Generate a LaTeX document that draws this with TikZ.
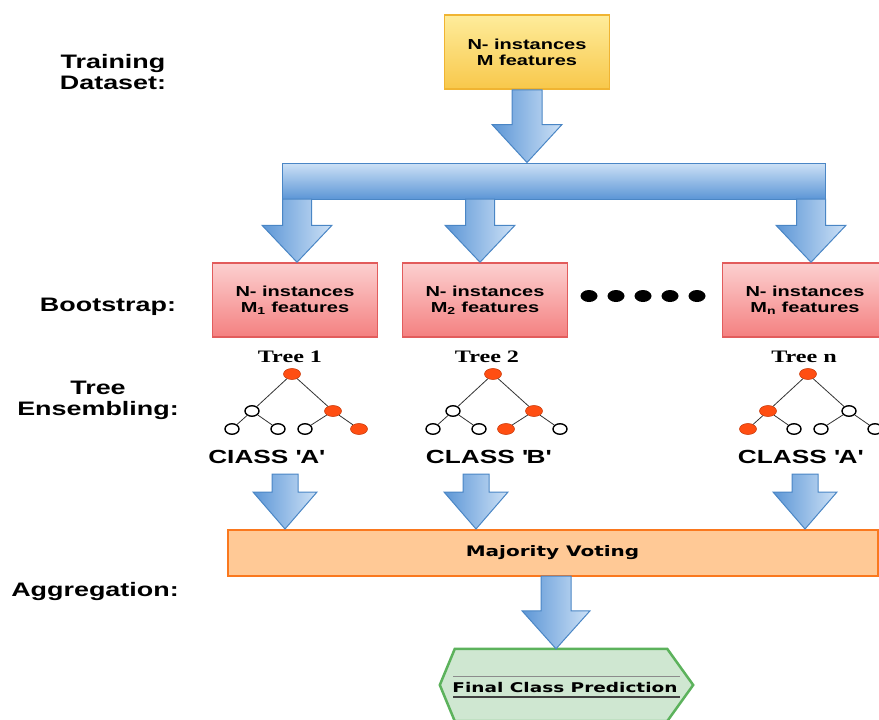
\documentclass[tikz,border=0pt]{standalone}
\usepackage{fontspec}
\setmainfont{Liberation Sans}[FakeStretch=1.38]
\newfontfamily\treefont{Liberation Serif}[FakeStretch=1.38]
\newfontfamily\widefont{DejaVu Sans}[FakeStretch=1.38]
\usepackage{tikz}
\usetikzlibrary{shapes.geometric, positioning}
\usetikzlibrary{calc}

\definecolor{arrowline}{RGB}{74,134,197}
\definecolor{arrowdark}{RGB}{92,150,214}
\definecolor{arrowlight}{RGB}{205,225,246}
\definecolor{redline}{RGB}{226,92,92}
\definecolor{redtop}{RGB}{252,208,208}
\definecolor{redbot}{RGB}{244,128,128}
\definecolor{yelline}{RGB}{240,180,50}
\definecolor{yeltop}{RGB}{254,236,155}
\definecolor{yelbot}{RGB}{248,200,75}
\definecolor{orline}{RGB}{250,120,30}
\definecolor{orfill}{RGB}{255,201,150}
\definecolor{grline}{RGB}{92,178,92}
\definecolor{grfill}{RGB}{207,231,209}
\definecolor{leafred}{RGB}{255,78,18}

% block arrow: start, tip, half shaft, half head, head length
\newcommand{\fatarrow}[5]{%
  \draw[fatarrow] let \p1=(#1), \p2=(#2) in
    (\x2-#3pt,\y1) -- (\x2+#3pt,\y1) -- (\x2+#3pt,\y2+#5pt) -- (\x2+#4pt,\y2+#5pt)
    -- (\x2,\y2) -- (\x2-#4pt,\y2+#5pt) -- (\x2-#3pt,\y2+#5pt) -- cycle;}

\tikzset{
  sidelabel/.style={align=center, font=\fontsize{19.5}{21}\selectfont\bfseries},
  databox/.style={draw, line width=1.5pt, minimum width=165pt, minimum height=74pt,
    align=center, font=\fontsize{14.5}{16}\selectfont\bfseries},
  fatarrow/.style={draw=arrowline, line width=1pt, left color=arrowdark, right color=arrowlight},
  onode/.style={ellipse, draw=leafred!80!black, fill=leafred, line width=0.6pt,
    minimum width=17pt, minimum height=11pt, inner sep=0pt},
  wnode/.style={ellipse, draw=black, fill=white, line width=1.4pt,
    minimum width=14pt, minimum height=10.5pt, inner sep=0pt},
  treeedge/.style={draw=black!80, line width=0.8pt},
  treelabel/.style={font=\treefont\fontsize{17.5}{19}\selectfont\bfseries},
  classlabel/.style={font=\fontsize{19}{21}\selectfont\bfseries}
}

\begin{document}
\begin{tikzpicture}[x=1pt, y=-1pt]
		\useasboundingbox (0,0) rectangle (879,720);
		\clip (0,0) rectangle (879,720);

		% side labels
		\draw (113,72) node[sidelabel] (lab1) {Training\\Dataset:}
		(108,307) node[sidelabel] (lab2) {Bootstrap:}
		(98,400) node[sidelabel] (lab3) {Tree\\Ensembling:}
		(95,591) node[sidelabel] (lab4) {Aggregation:};

		% data boxes
		\draw (527,52) node[databox, draw=yelline, top color=yeltop, bottom color=yelbot] (ds) {N- instances\\M features}
		(554,181) node[draw=arrowline, line width=1pt, minimum width=543pt, minimum height=36pt,
			top color=arrowlight, bottom color=arrowdark] (bar) {}
		(295,300) node[databox, draw=redline, top color=redtop, bottom color=redbot] (bs1) {N- instances\\M\textsubscript{1} features}
		(485,300) node[databox, draw=redline, top color=redtop, bottom color=redbot] (bs2) {N- instances\\M\textsubscript{2} features}
		(805,300) node[databox, draw=redline, top color=redtop, bottom color=redbot] (bsn) {N- instances\\M\textsubscript{n} features};

		\foreach \dx in {589,616,643,670,697}
			\fill (\dx,296) ellipse (8.5 and 6);

		% trees
		\foreach \t/\px/\cl/\cr/\cll/\clr/\crl/\crr in {1/292/wnode/onode/wnode/wnode/wnode/onode,
				2/493/wnode/onode/wnode/wnode/onode/wnode,
				n/808/onode/wnode/onode/wnode/wnode/wnode}{
			\draw (\px,374) node[onode] (root\t) {}
			(\px-40,411) node[\cl] (lc\t) {}
			(\px+41,411) node[\cr] (rc\t) {}
			(\px-60,429) node[\cll] (llc\t) {}
			(\px-14,429) node[\clr] (lrc\t) {}
			(\px+13,429) node[\crl] (rlc\t) {}
			(\px+67,429) node[\crr] (rrc\t) {};
			\draw[treeedge] (root\t) -- (lc\t);
			\draw[treeedge] (root\t) -- (rc\t);
			\draw[treeedge] (lc\t) -- (llc\t);
			\draw[treeedge] (lc\t) -- (lrc\t);
			\draw[treeedge] (rc\t) -- (rlc\t);
			\draw[treeedge] (rc\t) -- (rrc\t);
		}

		\draw (290,357) node[treelabel] (tl1) {Tree 1}
		(487,357) node[treelabel] (tl2) {Tree 2}
		(804,357) node[treelabel] (tln) {Tree n}
		(266,457) node[classlabel] (cl1) {CIASS \textquotesingle A\textquotesingle}
		(488,457) node[classlabel] (cl2) {CLASS \textquotesingle B\textquotesingle}
		(800,457) node[classlabel] (cln) {CLASS \textquotesingle A\textquotesingle};

		% voting and result
		\draw (552.5,553) node[draw=orline, line width=2pt, fill=orfill, minimum width=650pt, minimum height=46pt,
			font=\widefont\fontsize{14.5}{16}\selectfont\bfseries] (mv) {Majority Voting}
		(561,685) node[minimum width=212pt, minimum height=72pt, inner sep=0pt] (fp) {};
		\draw[draw=grline, fill=grfill, line width=2.5pt] ($(fp.west)+(-15,0)$) -- (fp.north west) -- (fp.north east)
			-- ($(fp.east)+(26,0)$) -- (fp.south east) -- (fp.south west) -- cycle;
		\draw[black!45, line width=1pt] (453,676) -- (680,676);
		\draw[black!75, line width=1.2pt] (453,697) -- (680,697);
		\node[font=\widefont\fontsize{13.4}{15}\selectfont\bfseries] (fpt) at (565,687) {Final Class Prediction};

		% block arrows
		\coordinate (a1) at (297,199);
		\coordinate (a2) at (480,199);
		\coordinate (an) at (811,199);
		\coordinate (c1) at (285,474);
		\coordinate (c2) at (476,474);
		\coordinate (cn) at (805,474);
		\coordinate (d) at (556,576);
		\fatarrow{ds.south}{ds.south |- bar.north}{15}{35}{38}
		\fatarrow{a1}{a1 |- bs1.north}{14.5}{35}{37}
		\fatarrow{a2}{a2 |- bs2.north}{14.5}{35}{37}
		\fatarrow{an}{an |- bsn.north}{14.5}{35}{37}
		\fatarrow{c1}{c1 |- mv.north}{13}{32}{37}
		\fatarrow{c2}{c2 |- mv.north}{13}{32}{37}
		\fatarrow{cn}{cn |- mv.north}{13}{32}{37}
		\fatarrow{d}{d |- fp.north}{15}{34}{38}
	\end{tikzpicture}
\end{document}
